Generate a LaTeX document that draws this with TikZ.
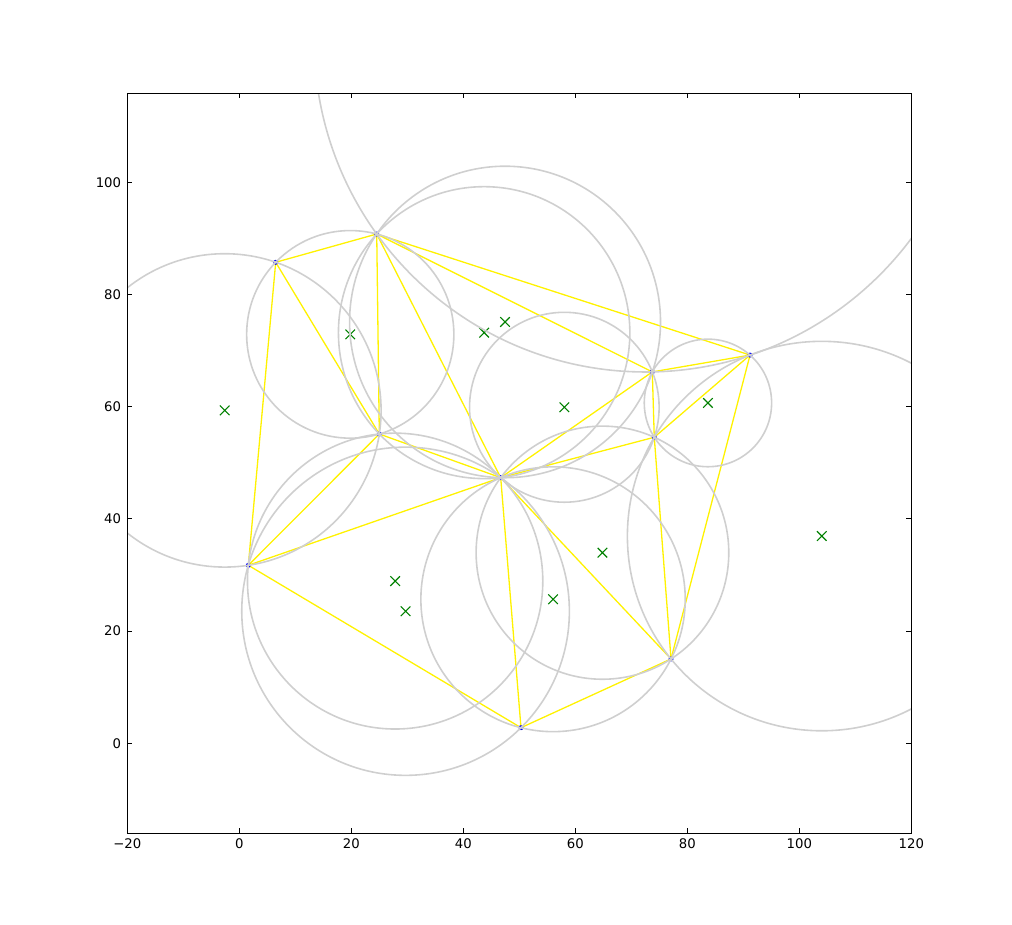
\documentclass[tikz,border=0pt]{standalone}
\usepackage{fontspec}
\setmainfont{DejaVu Sans}
\usepackage{xfp}
\usetikzlibrary{shapes.misc}
\definecolor{circgray}{HTML}{CFCFCF}
\definecolor{mplgreen}{HTML}{008000}
\tikzset{
  edge/.style={draw=yellow, line width=1.3bp},
  circ/.style={draw=circgray, line width=1.6bp},
  cmark/.style={draw=mplgreen, cross out, line width=1.1bp, minimum size=8.5bp, inner sep=0pt},
  vdot/.style={fill=blue, circle, inner sep=0pt, minimum size=5bp},
  axisframe/.style={draw=black, line width=1bp},
  tickmark/.style={draw=black, line width=0.8bp},
  ticklbl/.style={font=\fontsize{13.3}{16}\selectfont, inner sep=0pt}
}
\newcommand\rsdefpt[3]{%
  \expandafter\def\csname rspx#1\endcsname{#2}%
  \expandafter\def\csname rspy#1\endcsname{#3}%
  \coordinate (p#1) at (#2,#3);}
\newcommand\rscircum[4]{%
  \edef\rsAx{\csname rspx#2\endcsname}\edef\rsAy{\csname rspy#2\endcsname}%
  \edef\rsBx{\csname rspx#3\endcsname}\edef\rsBy{\csname rspy#3\endcsname}%
  \edef\rsCx{\csname rspx#4\endcsname}\edef\rsCy{\csname rspy#4\endcsname}%
  \edef\rsD{\fpeval{2*(\rsAx*(\rsBy-\rsCy)+\rsBx*(\rsCy-\rsAy)+\rsCx*(\rsAy-\rsBy))}}%
  \edef\rsUx{\fpeval{((\rsAx*\rsAx+\rsAy*\rsAy)*(\rsBy-\rsCy)+(\rsBx*\rsBx+\rsBy*\rsBy)*(\rsCy-\rsAy)+(\rsCx*\rsCx+\rsCy*\rsCy)*(\rsAy-\rsBy))/(\rsD)}}%
  \edef\rsUy{\fpeval{((\rsAx*\rsAx+\rsAy*\rsAy)*(\rsCx-\rsBx)+(\rsBx*\rsBx+\rsBy*\rsBy)*(\rsAx-\rsCx)+(\rsCx*\rsCx+\rsCy*\rsCy)*(\rsBx-\rsAx))/(\rsD)}}%
  \edef\rsR{\fpeval{sqrt((\rsAx-(\rsUx))^2+(\rsAy-(\rsUy))^2)}}%
  \draw[circ] (\rsUx,\rsUy) circle[radius=\rsR];
  \node[cmark] (#1) at (\rsUx,\rsUy) {};}
\begin{document}
\begin{tikzpicture}[x=1bp,y=1bp]
\path[use as bounding box] (0,0) rectangle (1012,925);
\begin{scope}[shift={(239.3,181.7)}, x=5.6bp, y=5.61bp]
  \rsdefpt{1}{6.5}{85.74}
  \rsdefpt{2}{24.54}{90.78}
  \rsdefpt{3}{25.0}{55.13}
  \rsdefpt{4}{1.61}{31.73}
  \rsdefpt{5}{46.68}{47.35}
  \rsdefpt{6}{73.75}{66.2}
  \rsdefpt{7}{91.2}{69.2}
  \rsdefpt{8}{74.1}{54.55}
  \rsdefpt{9}{77.09}{15.03}
  \rsdefpt{10}{50.3}{2.78}
  \coordinate (bl) at (-20,-15.99);
  \coordinate (tr) at (120,115.86);
  \begin{scope}
    \clip (bl) rectangle (tr);
    \foreach \a/\b in {1/2,1/3,1/4,2/3,2/5,2/6,2/7,3/4,3/5,4/5,4/10,5/6,5/8,5/9,5/10,6/7,6/8,7/8,7/9,8/9,9/10}
      \draw[edge] (p\a) -- (p\b);
    \foreach \i in {1,...,10} \node[vdot] (v\i) at (p\i) {};
    \rscircum{c1}{1}{2}{3}
    \rscircum{c2}{1}{3}{4}
    \rscircum{c3}{2}{3}{5}
    \rscircum{c4}{2}{5}{6}
    \rscircum{c5}{2}{6}{7}
    \rscircum{c6}{6}{7}{8}
    \rscircum{c7}{5}{6}{8}
    \rscircum{c8}{7}{8}{9}
    \rscircum{c9}{5}{8}{9}
    \rscircum{c10}{5}{9}{10}
    \rscircum{c11}{4}{5}{10}
    \rscircum{c12}{3}{4}{5}
  \end{scope}
  \draw[axisframe] (bl) rectangle (tr);
  \foreach \t/\l in {-20/{−20},0/0,20/20,40/40,60/60,80/80,100/100,120/120} {
    \draw[tickmark] (\t,-15.99) -- ++(0,5bp);
    \draw[tickmark] (\t,115.86) -- ++(0,-5bp);
    \node[ticklbl, anchor=north] (xl\t) at ([yshift=-5.5bp]\t,-15.99) {\l};
  }
  \foreach \t in {0,20,40,60,80,100} {
    \draw[tickmark] (-20,\t) -- ++(5bp,0);
    \draw[tickmark] (120,\t) -- ++(-5bp,0);
    \node[ticklbl, anchor=east] (yl\t) at ([xshift=-6bp]-20,\t) {\t};
  }
\end{scope}
\end{tikzpicture}
\end{document}
